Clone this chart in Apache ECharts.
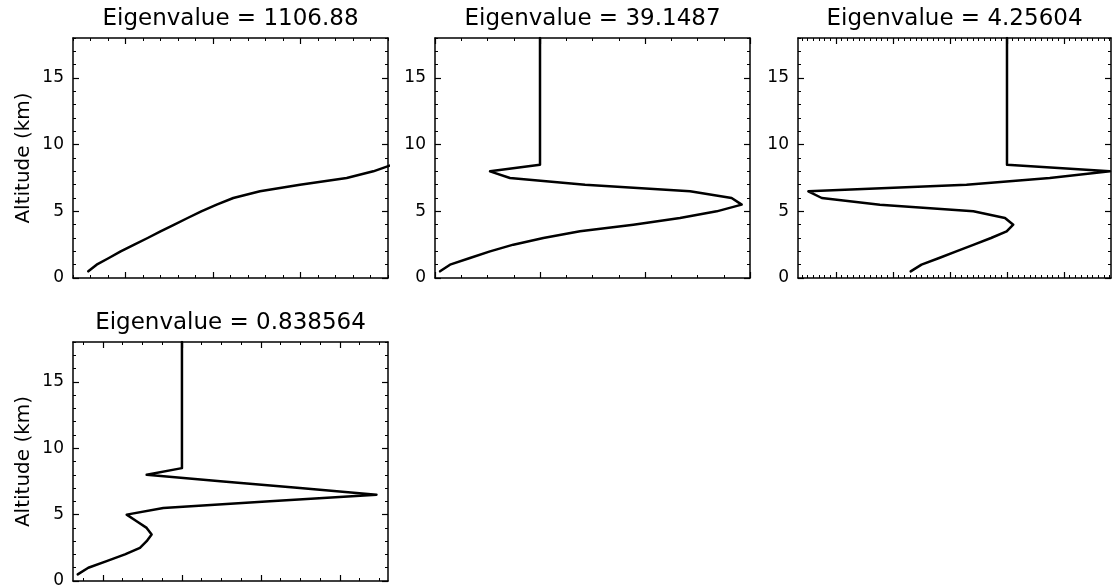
<!DOCTYPE html>
<html>
<head>
<meta charset="utf-8">
<script src="https://cdn.jsdelivr.net/npm/echarts@6/dist/echarts.min.js"></script>
<style>
  html, body { margin: 0; padding: 0; background: #ffffff; }
  #chart { width: 1119px; height: 586px; }
</style>
</head>
<body>
<div id="chart"></div>
<script>
// Altitude levels (km) of the retrieval grid
const altitudeKm = [0.5, 1, 1.5, 2, 2.5, 3, 3.5, 4, 4.5, 5, 5.5, 6, 6.5, 7, 7.5, 8, 8.5, 18];

// Eigenvalues shown in the panel titles
const eigenvalues = ['1106.88', '39.1487', '4.25604', '0.838564'];

// Eigenvector components at each altitude level
const eigenvector1 = [-0.0425, -0.033, -0.019, -0.0055, 0.010, 0.0253, 0.040, 0.0558, 0.071,
                      0.0866, 0.1042, 0.1232, 0.1537, 0.1994, 0.2528, 0.2832, 0.305];
const eigenvector2 = [-0.0952, -0.0857, -0.0667, -0.0476, -0.0254, 0.0032, 0.0381, 0.0889, 0.1333,
                      0.1683, 0.1921, 0.1825, 0.1429, 0.0429, -0.0286, -0.0476, 0, 0];
const eigenvector3 = [-0.169, -0.150, -0.119, -0.089, -0.058, -0.028, -0.0006, 0.011, -0.0035,
                      -0.059, -0.223, -0.325, -0.3485, -0.071, 0.075, 0.1807, 0, 0];
const eigenvector4 = [-0.132, -0.1186, -0.0954, -0.0722, -0.0532, -0.0447, -0.0384, -0.0447, -0.0574,
                      -0.070, -0.0236, 0.1114, 0.2464, 0.1494, 0.0523, -0.0447, 0, 0];

// Horizontal axis extents and tick marks for each panel
const xRanges = [[-0.06, 0.30], [-0.10, 0.20], [-0.3667, 0.1825], [-0.138, 0.261]];
const xMajorTicks = [[0, 0.1, 0.2], [-0.1, 0, 0.1, 0.2], [-0.3, -0.2, -0.1, 0, 0.1], [-0.1, 0, 0.1, 0.2]];
const xMinorSteps = [0.02, 0.025, 0.01, 0.025];

// Vertical axis (altitude) extent and ticks
const yRange = [0, 18];
const yMajorTicks = [0, 5, 10, 15];
const yMinorStep = 1;

const panels = [eigenvector1, eigenvector2, eigenvector3, eigenvector4];

// Plot boxes: left, top, width, height (px)
const boxes = [
  [73, 38, 315, 240],
  [435, 38, 315, 240],
  [798, 38, 313, 240],
  [73, 342, 315, 239]
];

const INK = '#000000';
const FONT = 'DejaVu Sans';

function minorValues(lo, hi, step, majors) {
  const out = [];
  const start = Math.ceil(lo / step - 1e-9);
  const end = Math.floor(hi / step + 1e-9);
  for (let k = start; k <= end; k++) {
    const v = +(k * step).toFixed(6);
    if (!majors.some(m => Math.abs(m - v) < 1e-9)) out.push(v);
  }
  return out;
}

const grid = [], xAxis = [], yAxis = [], series = [];

panels.forEach((values, i) => {
  const [left, top, width, height] = boxes[i];
  grid.push({ left, top, width, height, outerBoundsMode: 'none', show: false });

  const [xmin, xmax] = xRanges[i];
  const xMinor = minorValues(xmin, xmax, xMinorSteps[i], xMajorTicks[i]);
  const yMinor = minorValues(yRange[0], yRange[1], yMinorStep, yMajorTicks);

  const xBase = {
    gridIndex: i, type: 'value', min: xmin, max: xmax,
    splitLine: { show: false }, axisLabel: { show: false }
  };
  const yBase = {
    gridIndex: i, type: 'value', min: yRange[0], max: yRange[1],
    splitLine: { show: false }, axisLabel: { show: false }
  };
  const boxLine = { show: true, onZero: false, lineStyle: { color: INK, width: 1.5 } };
  const noLine = { show: false, onZero: false };
  const majorTick = vals => ({ show: true, inside: true, length: 6, customValues: vals, lineStyle: { color: INK, width: 1.2 } });
  const minorTick = vals => ({ show: true, inside: true, length: 3, customValues: vals, lineStyle: { color: INK, width: 1 } });

  const xMain = xAxis.length;
  // bottom edge
  xAxis.push(Object.assign({}, xBase, { position: 'bottom', axisLine: boxLine, axisTick: majorTick(xMajorTicks[i]) }));
  xAxis.push(Object.assign({}, xBase, { position: 'bottom', axisLine: noLine, axisTick: minorTick(xMinor) }));
  // top edge, carrying the panel title
  xAxis.push(Object.assign({}, xBase, {
    position: 'top', axisLine: boxLine, axisTick: majorTick(xMajorTicks[i]),
    name: 'Eigenvalue = ' + eigenvalues[i], nameLocation: 'middle', nameGap: 7,
    nameTextStyle: { color: INK, fontFamily: FONT, fontSize: 23 }
  }));
  xAxis.push(Object.assign({}, xBase, { position: 'top', axisLine: noLine, axisTick: minorTick(xMinor) }));

  const yMain = yAxis.length;
  // left edge with altitude labels
  const leftAxis = Object.assign({}, yBase, {
    position: 'left', axisLine: boxLine, axisTick: majorTick(yMajorTicks),
    axisLabel: { show: true, customValues: yMajorTicks, color: INK, fontFamily: FONT, fontSize: 17, margin: 9 }
  });
  if (i === 0 || i === 3) {
    Object.assign(leftAxis, {
      name: 'Altitude (km)', nameLocation: 'middle', nameGap: 39, nameRotate: 90,
      nameTextStyle: { color: INK, fontFamily: FONT, fontSize: 20 }
    });
  }
  yAxis.push(leftAxis);
  yAxis.push(Object.assign({}, yBase, { position: 'left', axisLine: noLine, axisTick: minorTick(yMinor) }));
  // right edge
  yAxis.push(Object.assign({}, yBase, { position: 'right', axisLine: boxLine, axisTick: majorTick(yMajorTicks) }));
  yAxis.push(Object.assign({}, yBase, { position: 'right', axisLine: noLine, axisTick: minorTick(yMinor) }));

  series.push({
    type: 'line',
    xAxisIndex: xMain,
    yAxisIndex: yMain,
    data: values.map((v, k) => [v, altitudeKm[k]]),
    showSymbol: false,
    symbol: 'none',
    clip: true,
    silent: true,
    lineStyle: { color: INK, width: 2.5, join: 'round', cap: 'round' }
  });
});

const chart = echarts.init(document.getElementById('chart'), null, { renderer: 'canvas' });
chart.setOption({
  backgroundColor: '#ffffff',
  animation: false,
  grid, xAxis, yAxis, series
});
</script>
</body>
</html>
